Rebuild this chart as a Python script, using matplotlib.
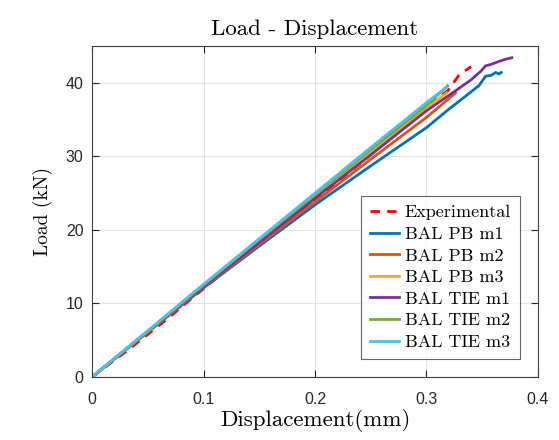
import numpy as np
import matplotlib
matplotlib.use('Agg')
import matplotlib.pyplot as plt

# Load-displacement curves
exp_x = [0, 0.01, 0.02, 0.03, 0.04, 0.05, 0.06, 0.07, 0.08, 0.1, 0.15, 0.2, 0.25, 0.3, 0.31, 0.319, 0.329, 0.34]
exp_y = [0, 1.1, 2.3, 3.4, 4.6, 5.8, 7.0, 8.2, 9.5, 12.0, 18.2, 24.1, 30.2, 36.6, 37.9, 38.9, 41.0, 42.2]

pb_m1_x = [0, 0.05, 0.1, 0.15, 0.2, 0.25, 0.3, 0.32, 0.347, 0.353, 0.358, 0.362, 0.365, 0.367]
pb_m1_y = [0, 6.1, 12.1, 17.8, 23.4, 28.7, 33.9, 36.4, 39.6, 40.9, 41.0, 41.4, 41.2, 41.4]

pb_m2_x = [0, 0.05, 0.1, 0.15, 0.2, 0.25, 0.3, 0.326]
pb_m2_y = [0, 6.1, 12.2, 18.0, 23.8, 29.6, 35.3, 38.6]

pb_m3_x = [0, 0.05, 0.1, 0.15, 0.2, 0.25, 0.3, 0.318]
pb_m3_y = [0, 6.2, 12.4, 18.5, 24.5, 30.5, 36.6, 38.6]

tie_m1_x = [0, 0.05, 0.1, 0.15, 0.2, 0.25, 0.3, 0.326, 0.34, 0.349, 0.353, 0.358, 0.365, 0.371, 0.3765]
tie_m1_y = [0, 6.2, 12.3, 18.3, 24.3, 30.2, 36.2, 38.9, 40.4, 41.6, 42.3, 42.5, 42.9, 43.2, 43.4]

tie_m2_x = [0, 0.05, 0.1, 0.15, 0.2, 0.25, 0.3, 0.319]
tie_m2_y = [0, 6.2, 12.5, 18.7, 24.8, 30.9, 36.9, 39.6]

tie_m3_x = [0, 0.05, 0.1, 0.15, 0.2, 0.25, 0.3, 0.318]
tie_m3_y = [0, 6.3, 12.6, 18.8, 25.0, 31.2, 37.3, 39.4]

x_ticks = [0, 0.1, 0.2, 0.3, 0.4]
y_ticks = [0, 10, 20, 30, 40]

serif = 'cmr10'

fig = plt.figure(figsize=(5.59, 4.40), dpi=100)
ax = fig.add_axes([0.1646, 0.1432, 0.7978, 0.7523])

lw = 2
ax.plot(exp_x, exp_y, 'r--', lw=lw, dashes=(3.4, 2.6), label='Experimental')
ax.plot(pb_m1_x, pb_m1_y, color='#0072BD', lw=lw, label='BAL PB m1')
ax.plot(pb_m2_x, pb_m2_y, color='#D95319', lw=lw, label='BAL PB m2')
ax.plot(pb_m3_x, pb_m3_y, color='#EDB120', lw=lw, label='BAL PB m3')
ax.plot(tie_m1_x, tie_m1_y, color='#7E2F8E', lw=lw, label='BAL TIE m1')
ax.plot(tie_m2_x, tie_m2_y, color='#77AC30', lw=lw, label='BAL TIE m2')
ax.plot(tie_m3_x, tie_m3_y, color='#4DBEEE', lw=lw, label='BAL TIE m3')

ax.set_xlim(0, 0.4)
ax.set_ylim(0, 45)
ax.set_xticks(x_ticks)
ax.set_yticks(y_ticks)
ax.set_xticklabels(['0', '0.1', '0.2', '0.3', '0.4'], fontfamily='Liberation Sans', fontsize=11.5)
ax.set_yticklabels([str(v) for v in y_ticks], fontfamily='Liberation Sans', fontsize=11.5)
ax.tick_params(direction='in', top=True, right=True, length=5, width=0.8, colors='#262626')
ax.tick_params(axis='x', pad=11)
ax.tick_params(axis='y', pad=6)
ax.grid(True, color='#e3e3e3', lw=0.8)
ax.set_axisbelow(True)
for s in ax.spines.values():
    s.set_color('#404040')
    s.set_linewidth(0.8)

ax.set_title('Load - Displacement', fontfamily=serif, fontsize=16.5, pad=8)
ax.set_xlabel('Displacement(mm)', fontfamily=serif, fontsize=16.5, labelpad=1)
ax.set_ylabel('Load (kN)', fontfamily=serif, fontsize=14, labelpad=9)

leg = ax.legend(loc='lower right', prop={'family': serif, 'size': 13}, frameon=True,
                fancybox=False, edgecolor='#404040', borderaxespad=1.0,
                handlelength=1.6, handletextpad=0.3, labelspacing=0.33, borderpad=0.5)
leg.get_frame().set_linewidth(0.8)

fig.savefig('out.png', dpi=100)
